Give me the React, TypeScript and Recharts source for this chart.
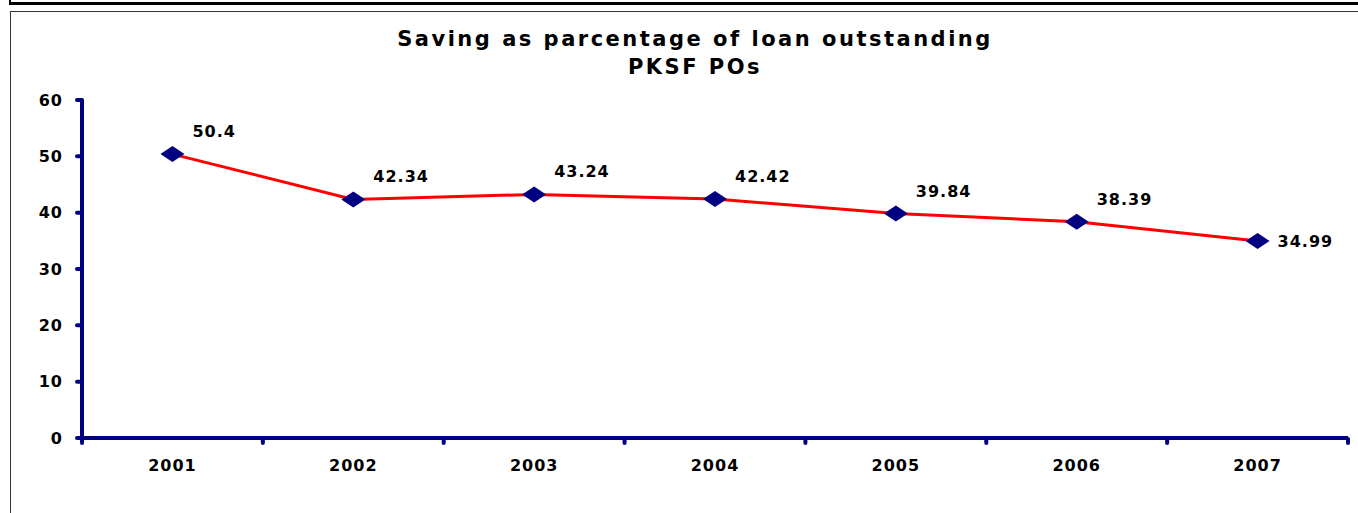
import { LineChart, Line, XAxis, YAxis, LabelList } from 'recharts'

const years = ['2001', '2002', '2003', '2004', '2005', '2006', '2007']
const savingPct = [50.4, 42.34, 43.24, 42.42, 39.84, 38.39, 34.99]
const yTicks = [0, 10, 20, 30, 40, 50, 60]

const data = years.map((year, i) => ({ year, value: savingPct[i] }))

const NAVY = '#000080'
const FONT = '"DejaVu Sans", sans-serif'
const X_TICK_GAP = 22

const Diamond = (props: any) => {
  const { cx, cy } = props
  if (cx == null || cy == null) return null
  return (
    <polygon
      points={`${cx - 12},${cy} ${cx},${cy - 8} ${cx + 12},${cy} ${cx},${cy + 8}`}
      fill={NAVY}
    />
  )
}

const ValueLabel = (props: any) => {
  const { x, y, value, index } = props
  const last = index === savingPct.length - 1
  return (
    <text
      x={x + 20}
      y={last ? y + 6 : y - 17}
      fill="#000"
      fontFamily={FONT}
      fontWeight="bold"
      fontSize={16}
      letterSpacing={1}
      textAnchor="start"
    >
      {value}
    </text>
  )
}

// category label plus the small tick marks that sit between categories
const YearTick = (props: any) => {
  const { x, y, payload, index } = props
  const half = payload?.offset ?? 0
  const axisY = y - X_TICK_GAP
  const tickStyle = { stroke: NAVY, strokeWidth: 4, strokeLinecap: 'round' as const }
  return (
    <g>
      <line x1={x - half} x2={x - half} y1={axisY + 1} y2={axisY + 5} {...tickStyle} />
      {index === years.length - 1 && (
        <line x1={x + half} x2={x + half} y1={axisY + 1} y2={axisY + 5} {...tickStyle} />
      )}
      <text x={x} y={y} dy="0.71em" textAnchor="middle" fill="#000" fontFamily={FONT} fontWeight="bold" fontSize={16} letterSpacing={1}>
        {payload.value}
      </text>
    </g>
  )
}

export default function App() {
  return (
    <div style={{ position: 'absolute', left: 0, top: 0, width: 1358, height: 513, background: '#fff', overflow: 'hidden' }}>
      {/* frame lines */}
      <div style={{ position: 'absolute', left: 10, top: 2, width: 1348, height: 3, background: '#000' }} />
      <div style={{ position: 'absolute', left: 9, top: 0, width: 2, height: 5, background: '#000' }} />
      <div style={{ position: 'absolute', left: 10, top: 11, width: 1348, height: 1, background: '#333' }} />
      <div style={{ position: 'absolute', left: 10, top: 11, width: 1, height: 502, background: '#333' }} />

      <div style={{ position: 'absolute', left: 0, top: 25, width: 1390, textAlign: 'center', fontFamily: FONT, fontWeight: 'bold', fontSize: 21, letterSpacing: 2.5, lineHeight: '28px', color: '#000' }}>
        Saving as parcentage of loan outstanding
        <br />
        PKSF POs
      </div>

      <LineChart
        width={1358}
        height={513}
        data={data}
        margin={{ top: 100, right: 10, bottom: 45, left: 22 }}
        style={{ position: 'absolute', left: 0, top: 0 }}
      >
        <XAxis
          dataKey="year"
          scale="band"
          height={30}
          axisLine={{ stroke: NAVY, strokeWidth: 4 }}
          tickLine={false}
          tickSize={0}
          tickMargin={X_TICK_GAP}
          interval={0}
          tick={<YearTick />}
        />
        <YAxis
          width={60}
          domain={[0, 60]}
          ticks={yTicks}
          axisLine={{ stroke: NAVY, strokeWidth: 4 }}
          tickLine={{ stroke: NAVY, strokeWidth: 4, strokeLinecap: 'round' }}
          tickSize={5}
          tickMargin={14}
          tick={{ fill: '#000', fontFamily: FONT, fontWeight: 'bold', fontSize: 16, letterSpacing: 1 }}
        />
        <Line
          dataKey="value"
          stroke="#ff0000"
          strokeWidth={3}
          dot={<Diamond />}
          activeDot={false}
          isAnimationActive={false}
        >
          <LabelList dataKey="value" content={<ValueLabel />} />
        </Line>
      </LineChart>
    </div>
  )
}
